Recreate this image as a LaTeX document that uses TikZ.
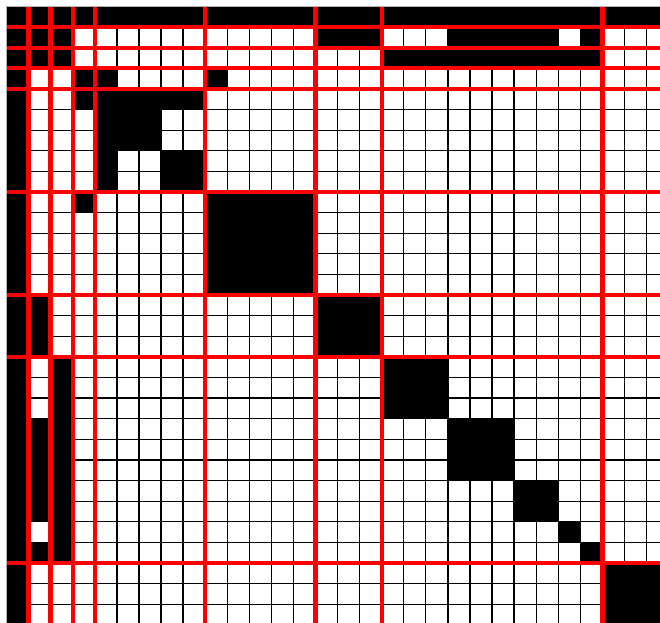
\documentclass[tikz,border=0pt]{standalone}
\begin{document}
\begin{tikzpicture}
\tikzset{
  gridline/.style={black, line width=1.3pt},
  sepline/.style={red, line width=4.3pt},
  borderline/.style={gray!60, line width=1pt},
  cellfill/.style={fill=black}
}
\useasboundingbox (0,0) rectangle (660pt,-622pt);
\fill[white] (0,0) rectangle (660pt,-622pt);
\clip (0,0) rectangle (660pt,-622pt);
\begin{scope}[shift={(6.5pt,-6.5pt)}, x=22.07pt, y=-20.61pt]
  \newcommand\blk[4]{\path[cellfill] (#3,#1) rectangle (#4+1,#2+1);}
  % thin grid
  \foreach \i in {0,...,30} {
    \draw[gridline] (\i,0) -- (\i,30);
    \draw[gridline] (0,\i) -- (30,\i);
  }
  % black cells: \blk{row1}{row2}{col1}{col2}
  \blk{0}{0}{0}{29}
  \blk{0}{29}{0}{0}
  \blk{1}{2}{1}{2}
  \blk{1}{1}{14}{16}
  \blk{1}{1}{20}{24}
  \blk{1}{1}{26}{26}
  \blk{2}{2}{17}{26}
  \blk{3}{3}{3}{4}
  \blk{3}{3}{9}{9}
  \blk{4}{4}{3}{8}
  \blk{4}{8}{4}{4}
  \blk{5}{6}{4}{6}
  \blk{7}{8}{7}{8}
  \blk{9}{9}{3}{3}
  \blk{9}{13}{9}{13}
  \blk{14}{16}{1}{1}
  \blk{14}{16}{14}{16}
  \blk{17}{26}{2}{2}
  \blk{20}{24}{1}{1}
  \blk{26}{26}{1}{1}
  \blk{17}{19}{17}{19}
  \blk{20}{22}{20}{22}
  \blk{23}{24}{23}{24}
  \blk{25}{25}{25}{25}
  \blk{26}{26}{26}{26}
  \blk{27}{29}{27}{29}
  % red separators
  \foreach \i in {1,2,3,4,9,14,17,27} {
    \draw[sepline] (\i,0) -- (\i,30);
    \draw[sepline] (0,\i) -- (30,\i);
  }
  % outer border
  \draw[borderline] (0,30) -- (0,0) -- (30,0);
\end{scope}
\end{tikzpicture}
\end{document}
